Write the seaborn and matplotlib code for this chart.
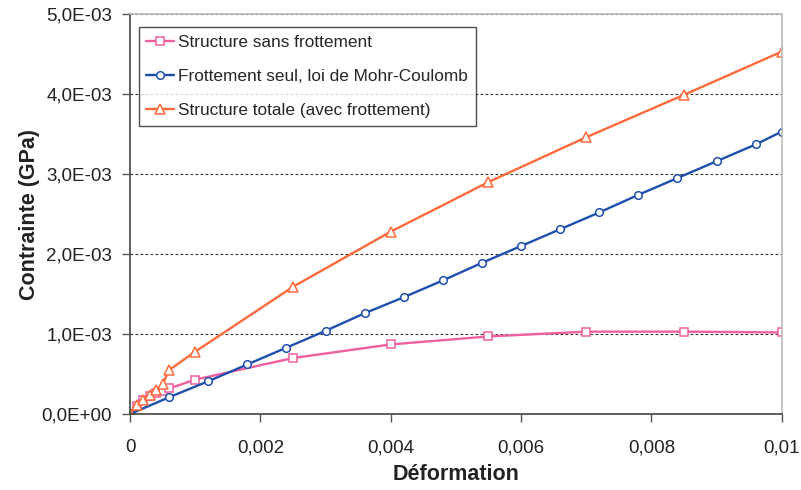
import matplotlib
matplotlib.use("Agg")
import matplotlib.pyplot as plt
import matplotlib.ticker as mticker
import seaborn as sns

# Structure sans frottement
x_sans = [0, 0.0001, 0.0002, 0.0003, 0.0004, 0.0005, 0.0006, 0.001, 0.0025, 0.004, 0.0055, 0.007, 0.0085, 0.01]
y_sans = [0, 0.10e-3, 0.17e-3, 0.22e-3, 0.26e-3, 0.29e-3, 0.32e-3, 0.43e-3, 0.70e-3, 0.87e-3, 0.97e-3, 1.03e-3, 1.03e-3, 1.02e-3]

# Frottement seul, loi de Mohr-Coulomb
x_mc = [0, 0.0006, 0.0012, 0.0018, 0.0024, 0.003, 0.0036, 0.0042, 0.0048, 0.0054, 0.006,
        0.0066, 0.0072, 0.0078, 0.0084, 0.009, 0.0096, 0.01]
y_mc = [0, 0.21e-3, 0.41e-3, 0.62e-3, 0.83e-3, 1.04e-3, 1.26e-3, 1.46e-3, 1.67e-3, 1.89e-3, 2.10e-3,
        2.31e-3, 2.52e-3, 2.74e-3, 2.95e-3, 3.16e-3, 3.37e-3, 3.53e-3]

# Structure totale (avec frottement)
x_tot = [0, 0.0001, 0.0002, 0.0003, 0.0004, 0.0005, 0.0006, 0.001, 0.0025, 0.004, 0.0055, 0.007, 0.0085, 0.01]
y_tot = [0, 0.11e-3, 0.18e-3, 0.24e-3, 0.30e-3, 0.37e-3, 0.55e-3, 0.78e-3, 1.59e-3, 2.28e-3, 2.90e-3, 3.46e-3, 3.99e-3, 4.53e-3]

labels = ["Structure sans frottement",
          "Frottement seul, loi de Mohr-Coulomb",
          "Structure totale (avec frottement)"]

sns.set_style("white")
plt.rcParams['font.family'] = ['Liberation Sans', 'DejaVu Sans']

fig = plt.figure(figsize=(8.01, 4.9), dpi=100)
ax = fig.add_axes([0.1623, 0.155, 0.8137, 0.8164])

series = [
    (x_sans, y_sans, "#F0609E", "s", 6),
    (x_mc, y_mc, "#1F4FAE", "o", 5.5),
    (x_tot, y_tot, "#FF6A3D", "^", 6.5),
]
for (xs, ys, col, mk, ms), lab in zip(series, labels):
    sns.lineplot(x=xs, y=ys, ax=ax, sort=False, color=col, linewidth=1.7,
                 marker=mk, markersize=ms, markerfacecolor="white",
                 markeredgecolor=col, markeredgewidth=1.1, label=lab)

ax.set_xlim(0, 0.01)
ax.set_ylim(0, 5e-3)
ax.xaxis.set_major_locator(mticker.MultipleLocator(0.002))
ax.yaxis.set_major_locator(mticker.MultipleLocator(1e-3))
ax.xaxis.set_major_formatter(mticker.FuncFormatter(lambda v, p: ("%g" % round(v, 6)).replace(".", ",")))
ax.yaxis.set_major_formatter(mticker.FuncFormatter(lambda v, p: ("%.1E" % v).replace(".", ",")))

ax.grid(axis="y", linestyle=(0, (2.5, 2)), color="#333333", linewidth=0.8)
ax.tick_params(axis="both", direction="out", length=6, width=1, color="#555555",
               labelsize=13.5, labelcolor="#222222", bottom=True, left=True)
ax.tick_params(axis="x", pad=12)
ax.tick_params(axis="y", pad=7)

for s in ["left", "bottom"]:
    ax.spines[s].set_color("#444444")
    ax.spines[s].set_linewidth(1.2)
for s in ["top", "right"]:
    ax.spines[s].set_color("#BBBBBB")
    ax.spines[s].set_linewidth(1.2)

ax.set_xlabel("Déformation", fontsize=15.5, fontweight="bold", color="#222222", labelpad=6)
ax.set_ylabel("Contrainte (GPa)", fontsize=15.5, fontweight="bold", color="#222222", labelpad=1)

leg = ax.legend(loc="upper left", bbox_to_anchor=(0.008, 0.975), fontsize=12.4,
                frameon=True, fancybox=False, edgecolor="#222222", borderpad=0.45,
                labelspacing=1.1, handlelength=1.6, handletextpad=0.25, borderaxespad=0.2)
leg.get_frame().set_linewidth(1.0)

fig.savefig("out.png", dpi=100)
